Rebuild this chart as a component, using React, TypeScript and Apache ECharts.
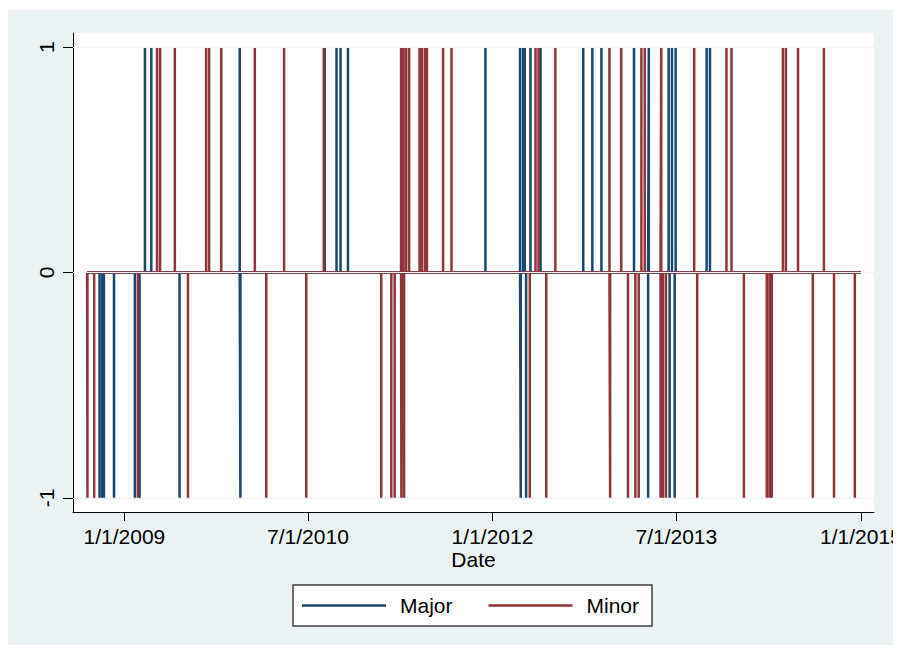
import React, { useEffect, useRef } from "react";
import * as echarts from "echarts";

const startDate = "2008-09-12";
const endDate = "2015-01-01";
const axisMinDate = "2008-08-01";
const axisMaxDate = "2015-02-09";
const xTickDates = ["2009-01-01", "2010-07-01", "2012-01-01", "2013-07-01", "2015-01-01"];
const yTickValues = [-1, 0, 1];
const seriesNames = ["Major", "Minor"];

const majorUp = [
  "2009-03-03", "2009-03-22", "2009-12-10", "2010-08-20", "2010-09-24", "2010-10-06",
  "2010-10-28", "2011-12-11", "2012-03-23", "2012-04-01", "2012-04-06", "2012-04-23",
  "2012-05-23", "2012-09-27", "2012-10-24", "2012-11-20", "2013-02-25", "2013-04-10",
  "2013-06-08", "2013-06-18", "2013-06-29", "2013-09-29", "2013-10-09",
];
const majorDown = [
  "2008-10-19", "2008-10-27", "2008-11-01", "2008-12-01", "2009-02-01", "2009-02-15",
  "2009-06-14", "2009-12-12", "2012-03-25", "2012-04-10", "2013-04-08", "2013-06-11",
  "2013-06-26",
];
const minorUp = [
  "2009-04-08", "2009-04-17", "2009-05-31", "2009-09-01", "2009-09-10", "2009-10-16",
  "2010-01-24", "2010-04-21", "2010-08-17", "2011-04-04", "2011-04-11", "2011-04-19",
  "2011-04-28", "2011-05-29", "2011-06-05", "2011-06-14", "2011-06-20", "2011-08-07",
  "2011-09-01", "2012-05-08", "2012-05-17", "2012-07-06", "2012-12-14", "2013-01-18",
  "2013-03-19", "2013-03-29", "2013-05-17", "2013-08-23", "2013-11-27", "2013-12-12",
  "2014-05-14", "2014-05-23", "2014-06-28", "2014-09-13",
];
const minorDown = [
  "2008-09-13", "2008-10-03", "2009-02-10", "2009-07-09", "2010-02-27", "2010-06-26",
  "2011-02-04", "2011-03-06", "2011-03-16", "2011-04-05", "2011-04-13", "2012-04-21",
  "2012-06-09", "2012-12-16", "2013-02-07", "2013-03-01", "2013-03-11", "2013-05-15",
  "2013-05-22", "2013-05-31", "2013-09-01", "2014-01-18", "2014-03-27", "2014-04-04",
  "2014-04-11", "2014-08-11", "2014-10-13", "2014-12-14",
];

const ts = (s: string) => {
  const [y, m, d] = s.split("-").map(Number);
  return Date.UTC(y, m - 1, d);
};

function buildSeries(up: string[], down: string[]) {
  const ev: [number, number][] = [
    ...up.map((s) => [ts(s), 1] as [number, number]),
    ...down.map((s) => [ts(s), -1] as [number, number]),
  ].sort((a, b) => a[0] - b[0]);
  const pts: [number, number][] = [[ts(startDate), 0]];
  for (const [t, v] of ev) {
    pts.push([t, 0], [t, v], [t, 0]);
  }
  pts.push([ts(endDate), 0]);
  return pts;
}

const FONT = "'Liberation Sans', Arial, sans-serif";
const FS = 21;

export default function App() {
  const ref = useRef<HTMLDivElement>(null);
  useEffect(() => {
    if (!ref.current) return;
    const chart = echarts.init(ref.current, null, { renderer: "svg" });
    const fmt = (v: number) => {
      const d = new Date(v);
      return `${d.getUTCMonth() + 1}/${d.getUTCDate()}/${d.getUTCFullYear()}`;
    };
    chart.setOption({
      animation: false,
      backgroundColor: "#EAF2F3",
      textStyle: { fontFamily: FONT },
      grid: {
        left: 65,
        top: 23,
        right: 19,
        bottom: 133,
        containLabel: false,
        outerBoundsMode: "none",
        show: true,
        backgroundColor: "#ffffff",
        borderWidth: 0,
      },
      legend: {
        data: seriesNames.map((n) => ({ name: n, icon: "rect" })),
        left: 285,
        top: 575,
        orient: "horizontal",
        itemWidth: 84,
        itemHeight: 2.5,
        itemGap: 36,
        padding: [10, 13, 10, 9],
        borderColor: "#404040",
        borderWidth: 1.5,
        backgroundColor: "#ffffff",
        selectedMode: false,
        textStyle: { fontSize: FS, color: "#000", fontFamily: FONT, padding: [0, 0, 0, 9] },
      },
      xAxis: {
        type: "value",
        min: ts(axisMinDate),
        max: ts(axisMaxDate),
        name: "Date",
        nameLocation: "middle",
        nameGap: 37,
        nameMoveOverlap: false,
        nameTextStyle: { fontSize: FS, color: "#000", fontFamily: FONT },
        axisLine: { show: true, onZero: false, lineStyle: { color: "#000", width: 1 } },
        axisTick: { show: true, length: 9, customValues: xTickDates.map(ts), lineStyle: { color: "#000" } },
        axisLabel: {
          show: true,
          customValues: xTickDates.map(ts),
          formatter: fmt,
          fontSize: FS,
          color: "#000",
          margin: 14,
          fontFamily: FONT,
        },
        splitLine: { show: false },
      },
      yAxis: {
        type: "value",
        min: -1.063,
        max: 1.063,
        axisLine: { show: true, onZero: false, lineStyle: { color: "#000", width: 1 } },
        axisTick: { show: true, length: 10, customValues: yTickValues, lineStyle: { color: "#000" } },
        axisLabel: {
          show: true,
          customValues: yTickValues,
          rotate: 90,
          fontSize: FS,
          color: "#000",
          margin: 16,
          fontFamily: FONT,
        },
        splitLine: { show: false },
      },
      series: [
        {
          name: "Major",
          type: "line",
          data: buildSeries(majorUp, majorDown),
          symbol: "none",
          showSymbol: false,
          lineStyle: { color: "#1a476f", width: 2.5, cap: "butt", join: "bevel" },
          itemStyle: { color: "#1a476f" },
          z: 2,
          markLine: {
            silent: true,
            symbol: "none",
            label: { show: false },
            lineStyle: { color: "#EAF2F3", type: "solid", width: 1 },
            data: yTickValues.map((v) => ({ yAxis: v })),
          },
        },
        {
          name: "Minor",
          type: "line",
          data: buildSeries(minorUp, minorDown),
          symbol: "none",
          showSymbol: false,
          lineStyle: { color: "#90353b", width: 2.5, cap: "butt", join: "bevel" },
          itemStyle: { color: "#90353b" },
          z: 3,
        },
      ],
    });
    return () => chart.dispose();
  }, []);
  return (
    <div
      ref={ref}
      style={{ position: "absolute", left: 8, top: 10, width: 885, height: 635 }}
    />
  );
}
